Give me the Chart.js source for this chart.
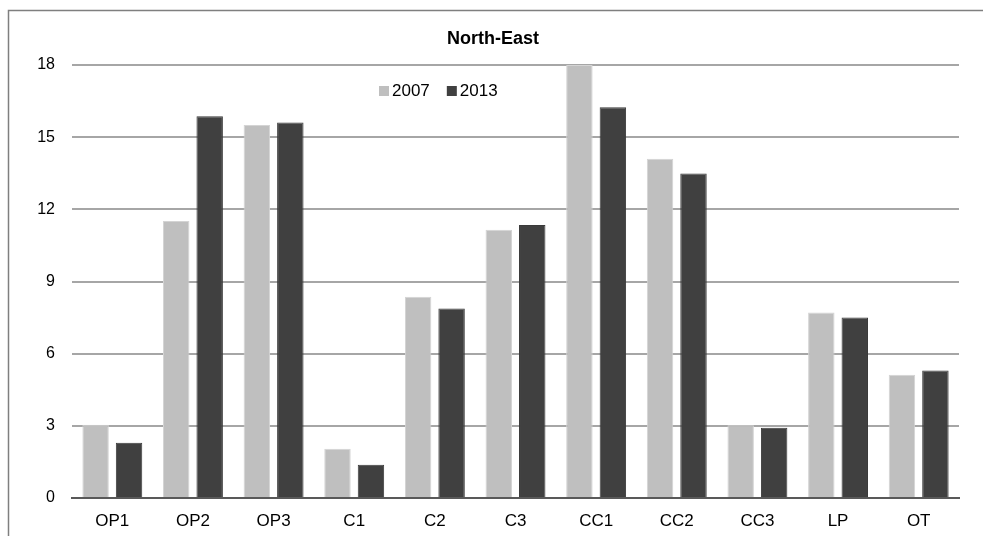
<!DOCTYPE html>
<html>
<head>
<meta charset="utf-8">
<script src="https://cdn.jsdelivr.net/npm/chart.js@4/dist/chart.umd.min.js"></script>
<style>
  html, body { margin: 0; padding: 0; background: #ffffff; }
  #wrap { width: 983px; height: 536px; position: relative; }
</style>
</head>
<body>
<div id="wrap"><canvas id="chart" width="983" height="536"></canvas></div>
<script>
// Categories and values per survey year
const categories = ["OP1", "OP2", "OP3", "C1", "C2", "C3", "CC1", "CC2", "CC3", "LP", "OT"];
const values2007 = [3.05, 11.52, 15.51, 2.05, 8.37, 11.15, 18.0, 14.10, 3.02, 7.71, 5.12];
const values2013 = [2.30, 15.87, 15.61, 1.38, 7.88, 11.35, 16.24, 13.49, 2.92, 7.50, 5.30];
const seriesNames = ["2007", "2013"];
const yTicks = [0, 3, 6, 9, 12, 15, 18];
const chartTitle = "North-East";

const FONT = "'Liberation Sans', Arial, sans-serif";

// Outer frame (left and top edges) plus the bold title
const framePlugin = {
  id: "frame",
  beforeDraw(chart) {
    const ctx = chart.ctx;
    ctx.save();
    ctx.fillStyle = "#ffffff";
    ctx.fillRect(0, 0, chart.width, chart.height);
    ctx.strokeStyle = "#7f7f7f";
    ctx.lineWidth = 1.5;
    ctx.beginPath();
    ctx.moveTo(8.5, chart.height);
    ctx.lineTo(8.5, 10.5);
    ctx.lineTo(chart.width, 10.5);
    ctx.stroke();
    ctx.restore();
  },
  afterDraw(chart) {
    const ctx = chart.ctx;
    ctx.save();
    ctx.fillStyle = "#000000";
    ctx.font = "bold 18px " + FONT;
    ctx.textAlign = "center";
    ctx.textBaseline = "middle";
    ctx.fillText(chartTitle, 493, 39);
    ctx.restore();
  }
};

// Inline legend inside the plot area
const inlineLegend = {
  id: "inlineLegend",
  afterDraw(chart) {
    const ctx = chart.ctx;
    ctx.save();
    ctx.font = "17px " + FONT;
    ctx.textBaseline = "middle";
    ctx.textAlign = "left";
    let x = 379;
    const y = 91;
    chart.data.datasets.forEach((ds) => {
      ctx.fillStyle = ds.backgroundColor;
      ctx.fillRect(x, y - 5, 10, 10);
      ctx.fillStyle = "#000000";
      ctx.fillText(ds.label, x + 13, y);
      x += 13 + ctx.measureText(ds.label).width + 17;
    });
    ctx.restore();
  }
};

new Chart(document.getElementById("chart"), {
  type: "bar",
  data: {
    labels: categories,
    datasets: [
      { label: seriesNames[0], data: values2007, backgroundColor: "#bfbfbf",
        borderColor: "#d4d4d4", borderWidth: 1 },
      { label: seriesNames[1], data: values2013, backgroundColor: "#404040",
        borderColor: "#3a3a3a", borderWidth: 1 }
    ]
  },
  options: {
    responsive: false,
    animation: false,
    devicePixelRatio: 1,
    layout: { padding: { left: 0, right: 24, top: 65, bottom: 0 } },
    datasets: { bar: { barPercentage: 0.79, categoryPercentage: 0.83 } },
    plugins: {
      legend: { display: false },
      title: { display: false },
      tooltip: { enabled: false }
    },
    scales: {
      x: {
        grid: { display: false, drawTicks: false },
        border: { display: true, color: "#595959", width: 2 },
        ticks: { color: "#000000", font: { family: FONT, size: 17 }, padding: 13 },
        afterFit(scale) { scale.height = 38; }
      },
      y: {
        min: 0,
        max: 18,
        afterBuildTicks(scale) { scale.ticks = yTicks.map(v => ({ value: v })); },
        grid: { color: "#a6a6a6", lineWidth: 2, drawTicks: false },
        border: { display: false },
        ticks: { color: "#000000", font: { family: FONT, size: 16 }, padding: 17 },
        afterFit(scale) { scale.width = 72; }
      }
    }
  },
  plugins: [framePlugin, inlineLegend]
});
</script>
</body>
</html>
